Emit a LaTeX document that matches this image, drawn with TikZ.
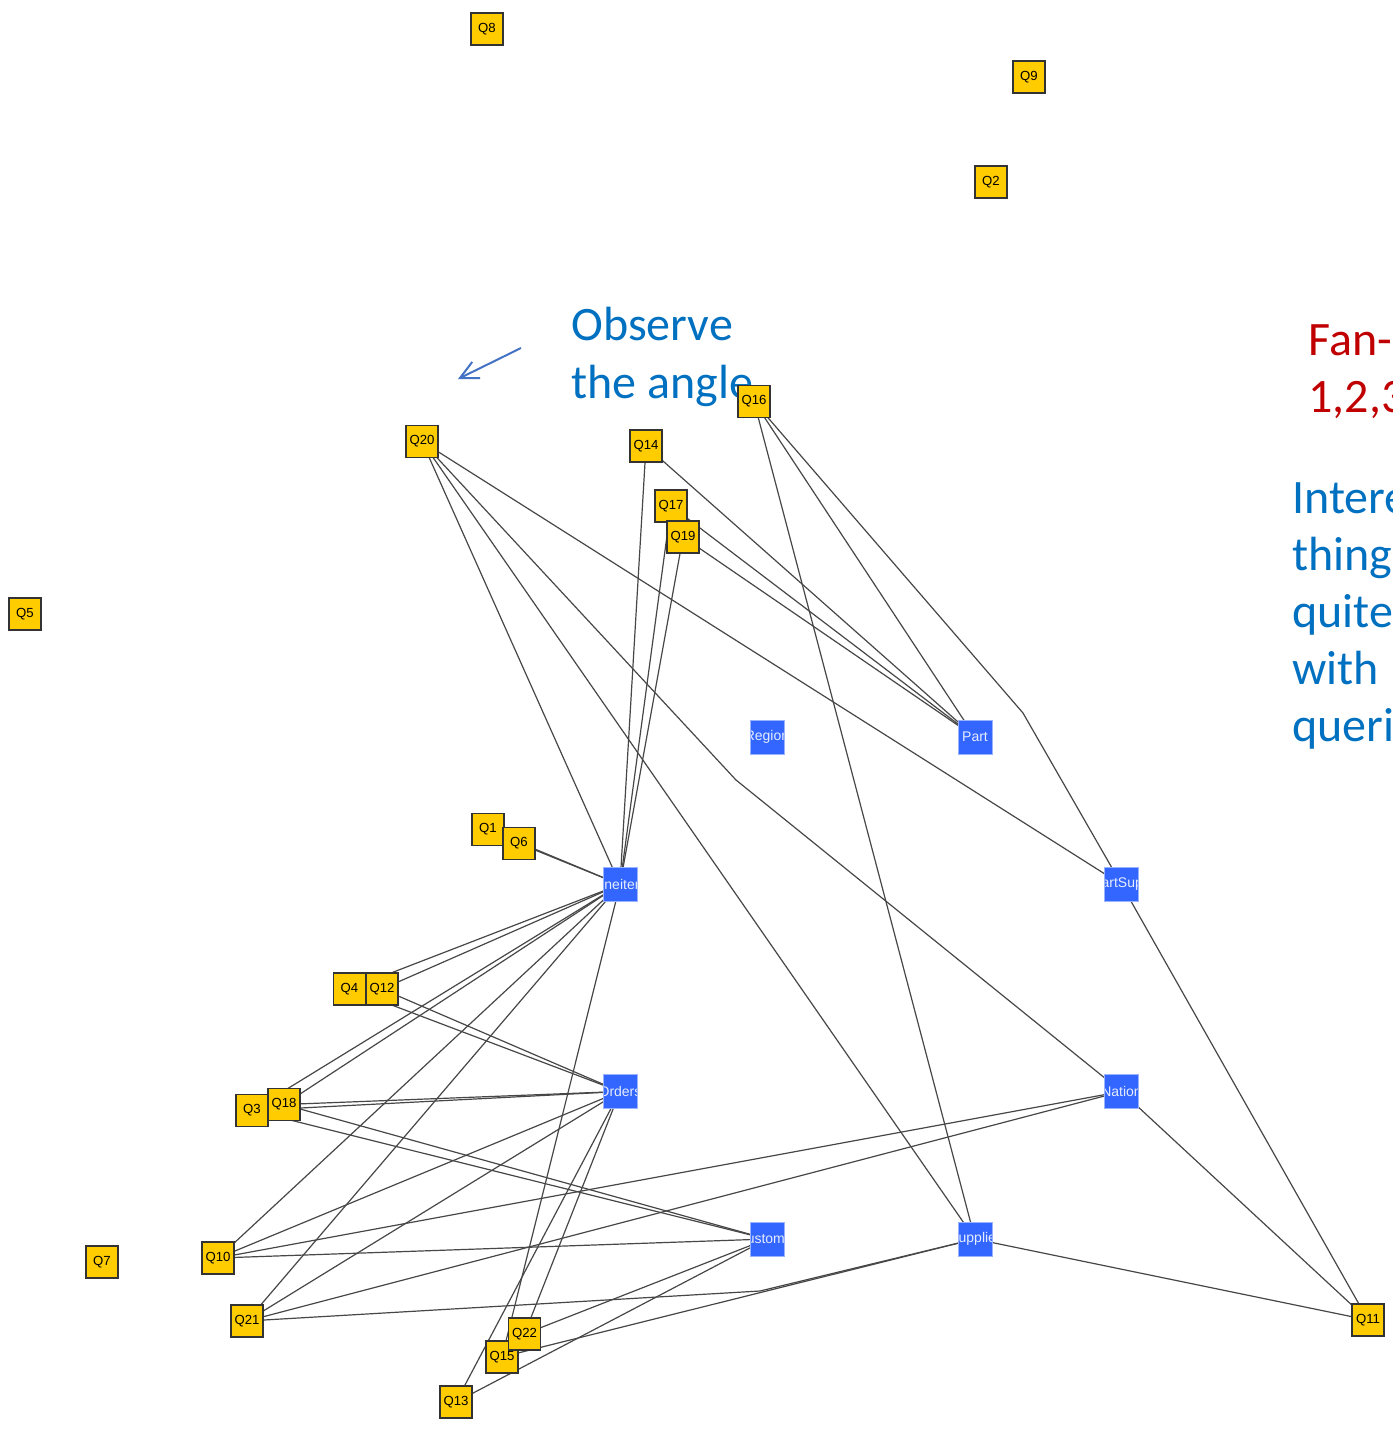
\documentclass[tikz,border=0pt]{standalone}
\usepackage{fontspec}
\setmainfont{Carlito}
\newfontfamily\graphfont{Liberation Sans}
\usetikzlibrary{arrows.meta}
\definecolor{qyellow}{HTML}{FFCC00}
\definecolor{tblue}{HTML}{3366FF}
\definecolor{tedge}{HTML}{99B3FF}
\definecolor{tlabelcol}{HTML}{E6ECFF}
\definecolor{notered}{HTML}{C00000}
\definecolor{noteblue}{HTML}{0070C0}
\definecolor{arrowblue}{HTML}{4472C4}
\definecolor{linkgray}{HTML}{474747}
\pgfdeclarelayer{bg}
\pgfdeclarelayer{links}
\pgfsetlayers{bg,links,main}
\tikzset{
  querybox/.style={draw=black!80, line width=0.6pt, fill=qyellow, minimum size=16pt,
    inner sep=0pt, font=\graphfont\fontsize{6.6}{6.6}\selectfont},
  tablebox/.style={fill=tblue, draw=tedge, line width=0.4pt, minimum size=17pt, inner sep=0pt},
  tablelabel/.style={text=tlabelcol, font=\graphfont\fontsize{7}{7}\selectfont, inner sep=0pt},
  linkline/.style={draw=linkgray, line width=0.6pt},
  notetext/.style={anchor=base west, inner sep=0pt, font=\fontsize{24}{29}\selectfont},
}
% table node: blue square whose name is clipped to the square
\newcommand\tablenode[4]{%
  \node[tablebox, path picture={\node[tablelabel] at (path picture bounding box.center) {#4};}]
    (#1) at (#2,#3) {};}
\begin{document}
\begin{tikzpicture}[x=0.5pt, y=-0.5pt]
\useasboundingbox (0,0) rectangle (1393,1431);
\begin{pgfonlayer}{bg}
  \fill[white] (0,0) rectangle (1393,1431);
\end{pgfonlayer}

% annotations
\node[notetext, text=noteblue] (obs1) at (571,340) {Observe};
\node[notetext, text=noteblue] (obs2) at (571,398) {the angle};
\coordinate (arrS) at (521,348);
\coordinate (arrE) at (458,379);
\draw[arrowblue, line width=1pt, -{Straight Barb[length=9pt,width=9pt]}] (arrS) -- (arrE);

\node[notetext, text=notered] (fan1) at (1308,355) {Fan-};
\node[notetext, text=notered] (fan2) at (1308,412) {1,2,3};
\node[notetext, text=noteblue] (int1) at (1292,513) {Intere};
\node[notetext, text=noteblue] (int2) at (1292,570) {thing};
\node[notetext, text=noteblue] (int3) at (1292,627) {quite};
\node[notetext, text=noteblue] (int4) at (1292,684) {with};
\node[notetext, text=noteblue] (int5) at (1292,741) {queri};

% tables
\tablenode{L}{620}{884.5}{Lineitem}
\tablenode{O}{620}{1091.5}{Orders}
\tablenode{R}{767}{737}{Region}
\tablenode{P}{975}{737}{Part}
\tablenode{PS}{1121.5}{884.5}{PartSupp}
\tablenode{N}{1121.5}{1091.5}{Nation}
\tablenode{C}{767}{1239}{Customer}
\tablenode{S}{975}{1239}{Supplier}

% queries
\node[querybox] (Q8)  at (487,29)    {Q8};
\node[querybox] (Q9)  at (1029,77)   {Q9};
\node[querybox] (Q2)  at (991,182)   {Q2};
\node[querybox] (Q5)  at (25,614)    {Q5};
\node[querybox] (Q16) at (754,401.5) {Q16};
\node[querybox] (Q20) at (422,441.5) {Q20};
\node[querybox] (Q14) at (646,446)   {Q14};
\node[querybox] (Q17) at (671,506)   {Q17};
\node[querybox] (Q19) at (683,537)   {Q19};
\node[querybox] (Q1)  at (488,829.5) {Q1};
\node[querybox] (Q6)  at (519,843.5) {Q6};
\node[querybox] (Q4)  at (349.5,989) {Q4};
\node[querybox] (Q12) at (382,989)   {Q12};
\node[querybox] (Q3)  at (252,1110.5) {Q3};
\node[querybox] (Q18) at (284,1104.5) {Q18};
\node[querybox] (Q7)  at (102,1262)  {Q7};
\node[querybox] (Q10) at (218,1258)  {Q10};
\node[querybox] (Q21) at (247,1321)  {Q21};
\node[querybox] (Q15) at (502,1357)  {Q15};
\node[querybox] (Q22) at (524.5,1334) {Q22};
\node[querybox] (Q13) at (456,1402)  {Q13};
\node[querybox] (Q11) at (1368,1320) {Q11};

% bend points of routed links
\coordinate (bendN)  at (736,780);
\coordinate (bendPS) at (1023,713);
\coordinate (bendS)  at (760,1291);

% links between queries and tables
\begin{pgfonlayer}{links}
  \draw[linkline] (Q20.center) -- (L.center);
  \draw[linkline] (Q20.center) -- (S.center);
  \draw[linkline] (Q20.center) -- (bendN) -- (N.center);
  \draw[linkline] (Q20.center) -- (PS.center);
  \draw[linkline] (Q14.center) -- (L.center);
  \draw[linkline] (Q14.center) -- (P.center);
  \draw[linkline] (Q17.center) -- (L.center);
  \draw[linkline] (Q17.center) -- (P.center);
  \draw[linkline] (Q19.center) -- (L.center);
  \draw[linkline] (Q19.center) -- (P.center);
  \draw[linkline] (Q16.center) -- (S.center);
  \draw[linkline] (Q16.center) -- (P.center);
  \draw[linkline] (Q16.center) -- (bendPS) -- (PS.center);
  \draw[linkline] (Q1.center) -- (L.center);
  \draw[linkline] (Q6.center) -- (L.center);
  \draw[linkline] (Q4.center) -- (L.center);
  \draw[linkline] (Q4.center) -- (O.center);
  \draw[linkline] (Q12.center) -- (L.center);
  \draw[linkline] (Q12.center) -- (O.center);
  \draw[linkline] (Q3.center) -- (L.center);
  \draw[linkline] (Q3.center) -- (O.center);
  \draw[linkline] (Q3.center) -- (C.center);
  \draw[linkline] (Q18.center) -- (L.center);
  \draw[linkline] (Q18.center) -- (O.center);
  \draw[linkline] (Q18.center) -- (C.center);
  \draw[linkline] (Q10.center) -- (L.center);
  \draw[linkline] (Q10.center) -- (O.center);
  \draw[linkline] (Q10.center) -- (N.center);
  \draw[linkline] (Q10.center) -- (C.center);
  \draw[linkline] (Q21.center) -- (L.center);
  \draw[linkline] (Q21.center) -- (O.center);
  \draw[linkline] (Q21.center) -- (N.center);
  \draw[linkline] (Q21.center) -- (bendS) -- (S.center);
  \draw[linkline] (Q22.center) -- (O.center);
  \draw[linkline] (Q22.center) -- (C.center);
  \draw[linkline] (Q15.center) -- (L.center);
  \draw[linkline] (Q15.center) -- (S.center);
  \draw[linkline] (Q13.center) -- (O.center);
  \draw[linkline] (Q13.center) -- (C.center);
  \draw[linkline] (Q11.center) -- (N.center);
  \draw[linkline] (Q11.center) -- (PS.center);
  \draw[linkline] (Q11.center) -- (S.center);
\end{pgfonlayer}
\end{tikzpicture}
\end{document}
